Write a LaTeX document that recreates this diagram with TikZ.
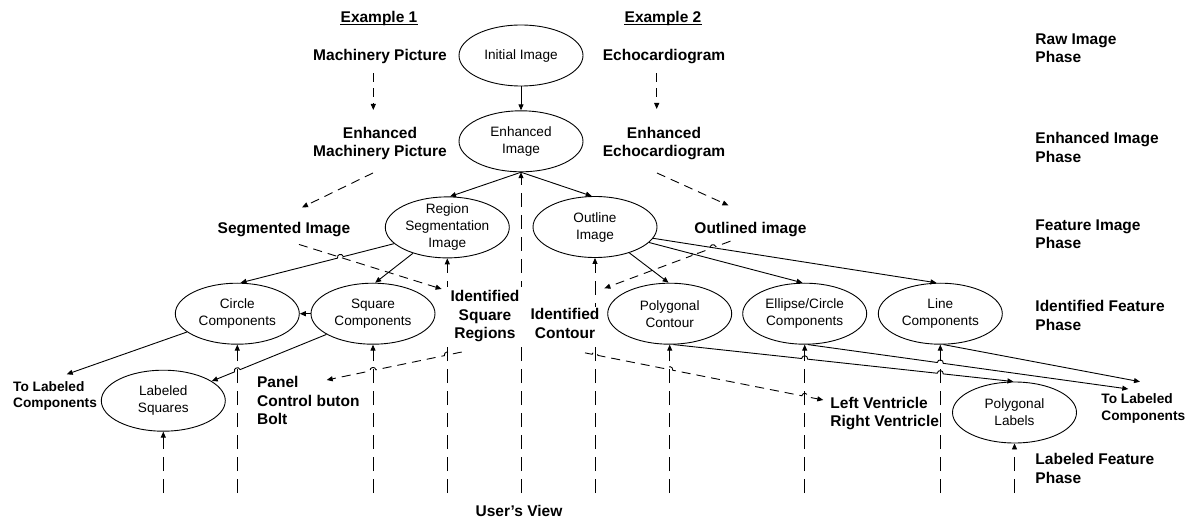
\documentclass[tikz,border=0pt]{standalone}
\usepackage{fontspec}
\setmainfont{Liberation Sans}
\usetikzlibrary{shapes.geometric,arrows.meta,calc}
\begin{document}
\begin{tikzpicture}[x=1pt,y=-1pt,line width=0.9pt,
  ell/.style={draw,ellipse,minimum width=124pt,minimum height=61pt,inner sep=0pt},
  etxt/.style={font=\fontsize{13.6}{17}\selectfont,align=center,inner sep=0pt},
  lbl/.style={font=\fontsize{15.5}{18.4}\selectfont\bfseries,inner sep=0pt},
  phase/.style={lbl,align=left,anchor=north west},
  sml/.style={font=\fontsize{13.7}{16.6}\selectfont\bfseries,inner sep=0pt,align=left,anchor=north west},
  arr/.style={-{Triangle[length=6pt,width=5pt]}},
  dsh/.style={arr,dash pattern=on 9pt off 6pt},
  uvline/.style={arr,dash pattern=on 14pt off 8pt},
  hopL/.style={bend left=90,looseness=1.7},
  hopR/.style={bend right=90,looseness=1.7}]
\fill[white] (0,0) rectangle (1191,521);
\useasboundingbox (0,0) rectangle (1191,521);

% processing stages
\node[ell] (init)    at (521,55.5)    {};
\node[ell] (enh)     at (521,141.3)   {};
\node[ell] (reg)     at (447.3,227.4) {};
\node[ell] (outl)    at (595,227)     {};
\node[ell] (circ)    at (237.3,313.7) {};
\node[ell] (sq)      at (373,313.7)   {};
\node[ell] (poly)    at (669.7,313.7) {};
\node[ell] (elc)     at (804.7,313.7) {};
\node[ell] (linec)   at (940.3,313.7) {};
\node[ell] (labsq)   at (163.3,400.7) {};
\node[ell] (polylab) at (1014.5,412.5) {};

\node[etxt] (initT)    at (init)    {Initial Image};
\node[etxt] (enhT)     at (enh)     {Enhanced\\Image};
\node[etxt] (regT)     at (reg)     {Region\\Segmentation\\Image};
\node[etxt] (outlT)    at (outl)    {Outline\\Image};
\node[etxt] (circT)    at (circ)    {Circle\\Components};
\node[etxt] (sqT)      at (sq)      {Square\\Components};
\node[etxt] (polyT)    at (poly)    {Polygonal\\Contour};
\node[etxt] (elcT)     at (elc)     {Ellipse/Circle\\Components};
\node[etxt] (linecT)   at (linec)   {Line\\Components};
\node[etxt] (labsqT)   at (labsq)   {Labeled\\Squares};
\node[etxt] (polylabT) at (polylab) {Polygonal\\Labels};

% user's view: long dashed lines rising to each stage
\coordinate (floor) at (0,493);
\foreach \nm in {labsq,circ,sq,reg,enh,outl,poly,elc,linec,polylab}{
  \coordinate (b\nm) at (\nm.south |- floor);
  \coordinate (t\nm) at (\nm.center);
  \draw[uvline] (b\nm) -- (\nm.south);
}

% example texts
\node[lbl,anchor=base] (ex1) at (379,22.7) {Example 1};
\node[lbl,anchor=base] (ex2) at (663,22.7) {Example 2};
\draw[line width=1.1pt] ([yshift=-1.4pt]ex1.base west) -- ([yshift=-1.4pt]ex1.base east);
\draw[line width=1.1pt] ([yshift=-1.4pt]ex2.base west) -- ([yshift=-1.4pt]ex2.base east);
\node[lbl,anchor=base] (mp)   at (380,60.7) {Machinery Picture};
\node[lbl,anchor=base] (echo) at (664,60.7) {Echocardiogram};
\node[lbl,align=center,anchor=north] (em) at (380,126.7) {Enhanced\\Machinery Picture};
\node[lbl,align=center,anchor=north] (ee) at (664,126.7) {Enhanced\\Echocardiogram};
\node[lbl,anchor=base] (seg) at (284,233.3) {Segmented Image};
\node[lbl,anchor=base west] (outd) at (694,233.3) {Outlined image};
\node[lbl,align=center,anchor=north,fill=white,inner xsep=4pt,inner ysep=3pt] (idsq) at (485,287) {Identified\\Square\\Regions};
\node[lbl,align=center,anchor=north,fill=white,inner sep=2pt] (idc) at (565,306.3) {Identified\\Contour};
\node[lbl,align=left,anchor=north west] (panel) at (256.7,376) {Panel\\Control buton\\Bolt};
\node[lbl,align=left,anchor=north west] (lv) at (830,396.7) {Left Ventricle\\Right Ventricle};
\node[sml] (tlL) at (12.7,380.7) {To Labeled\\Components};
\node[sml] (tlR) at (1101,393.3) {To Labeled\\Components};
\node[lbl,anchor=base] (uv) at (519,516) {User’s View};

% phases
\node[phase] (raw)  at (1035,33.3)  {Raw Image\\Phase};
\node[phase] (enhp) at (1035,132.3) {Enhanced Image\\Phase};
\node[phase] (feat) at (1035,219)   {Feature Image\\Phase};
\node[phase] (idf)  at (1035,300)   {Identified Feature\\Phase};
\node[phase] (labf) at (1035,453.3) {Labeled Feature\\Phase};

% processing flow
\draw[arr] (init) -- (enh);
\draw[arr] (enh.south) -- (reg.85);
\draw[arr] (enh.south) -- (outl.96);
\draw[arr] (reg.217) -- (sq.86);
\draw[arr] (sq.west) -- (circ.east);
\draw[arr] (outl.323) -- (poly.92);
\draw[arr] (outl.344) -- (elc.94);
\draw[arr] (outl.349) -- (linec.97);
\draw[arr] (circ.200) -- ($(tlL.north west)+(54,-6.4)$);
\draw[arr] (linec.276) -- ($(tlR.north west)+(39,-11.6)$);

% example flow (dashed)
\draw[dsh] ($(mp.south)+(-6.7,9)$) -- ($(em.north)+(-6.7,-16.7)$);
\draw[dsh] ($(echo.south)+(-7.3,9)$) -- ($(ee.north)+(-7.3,-17.7)$);
\draw[dsh] ($(em.south)+(-7,12.5)$) -- ($(seg.north)+(18,-14.2)$);
\draw[dsh] ($(ee.south)+(-7,12.5)$) -- ($(outd.north)+(-22,-16.2)$);
\coordinate (eA) at ($(seg.south)+(15,7.4)$);
\coordinate (eB) at ($(idsq.north west)+(-4.5,2)$);
\draw[dsh] (eA) -- (eB);

% region -> circle, hopping over the dashed line
\coordinate (rA) at (reg.197);
\coordinate (rB) at (circ.84);
\coordinate (x4) at (intersection of rA--rB and eA--eB);
\draw[arr] (rA) -- ($(x4)!3pt!(rA)$) to[hopR] ($(x4)!3pt!(rB)$) -- (rB);

% outlined image -> identified contour, hopping over two solid lines
\coordinate (fA) at ($(outd.south)+(-20,4.1)$);
\coordinate (fB) at ($(idc.north east)+(2.5,-18)$);
\coordinate (oL1) at (outl.349);
\coordinate (oL2) at (linec.97);
\coordinate (oE1) at (outl.344);
\coordinate (oE2) at (elc.94);
\coordinate (x1) at (intersection of fA--fB and oL1--oL2);
\coordinate (x2) at (intersection of fA--fB and oE1--oE2);
\draw[dsh] (fA) -- ($(x1)!3pt!(fA)$) to[hopR] ($(x1)!3pt!(fB)$)
  -- ($(x2)!3pt!(fA)$) to[hopR] ($(x2)!3pt!(fB)$) -- (fB);

% square components -> labeled squares
\coordinate (sA) at (sq.204);
\coordinate (sB) at (labsq.22);
\coordinate (x3) at (intersection of sA--sB and bcirc--tcirc);
\draw[arr] (sA) -- ($(x3)!3pt!(sA)$) to[hopR] ($(x3)!3pt!(sB)$) -- (sB);

% polygonal contour -> polygonal labels
\coordinate (pA) at (poly.277);
\coordinate (pB) at (polylab.92);
\coordinate (x5) at (intersection of pA--pB and belc--telc);
\coordinate (x6) at (intersection of pA--pB and blinec--tlinec);
\draw[arr] (pA) -- ($(x5)!3pt!(pA)$) to[hopL] ($(x5)!3pt!(pB)$)
  -- ($(x6)!3pt!(pA)$) to[hopL] ($(x6)!3pt!(pB)$) -- (pB);

% ellipse/circle components -> labeled components
\coordinate (qA) at (elc.276);
\coordinate (qB) at ($(tlR.north west)+(27.3,-4.3)$);
\coordinate (x7) at (intersection of qA--qB and blinec--tlinec);
\draw[arr] (qA) -- ($(x7)!3pt!(qA)$) to[hopL] ($(x7)!3pt!(qB)$) -- (qB);

% identified square regions -> panel / control button / bolt
\coordinate (gA) at ($(idsq.south)+(-23.3,6.8)$);
\coordinate (gB) at ($(panel.north west)+(70,4)$);
\coordinate (x8) at (intersection of gA--gB and breg--treg);
\coordinate (x9) at (intersection of gA--gB and bsq--tsq);
\draw[dsh] (gA) -- ($(x8)!3pt!(gA)$) to[hopR] ($(x8)!3pt!(gB)$)
  -- ($(x9)!3pt!(gA)$) to[hopR] ($(x9)!3pt!(gB)$) -- (gB);

% identified contour -> ventricles
\coordinate (hA) at ($(idc.south)+(20,11.9)$);
\coordinate (hB) at ($(lv.north west)+(-6.7,3.3)$);
\coordinate (x10) at (intersection of hA--hB and boutl--toutl);
\coordinate (x11) at (intersection of hA--hB and bpoly--tpoly);
\coordinate (x12) at (intersection of hA--hB and belc--telc);
\draw[dsh] (hA) -- ($(x10)!3pt!(hA)$) to[hopL] ($(x10)!3pt!(hB)$)
  -- ($(x11)!3pt!(hA)$) to[hopL] ($(x11)!3pt!(hB)$)
  -- ($(x12)!3pt!(hA)$) to[hopL] ($(x12)!3pt!(hB)$) -- (hB);
\end{tikzpicture}
\end{document}
